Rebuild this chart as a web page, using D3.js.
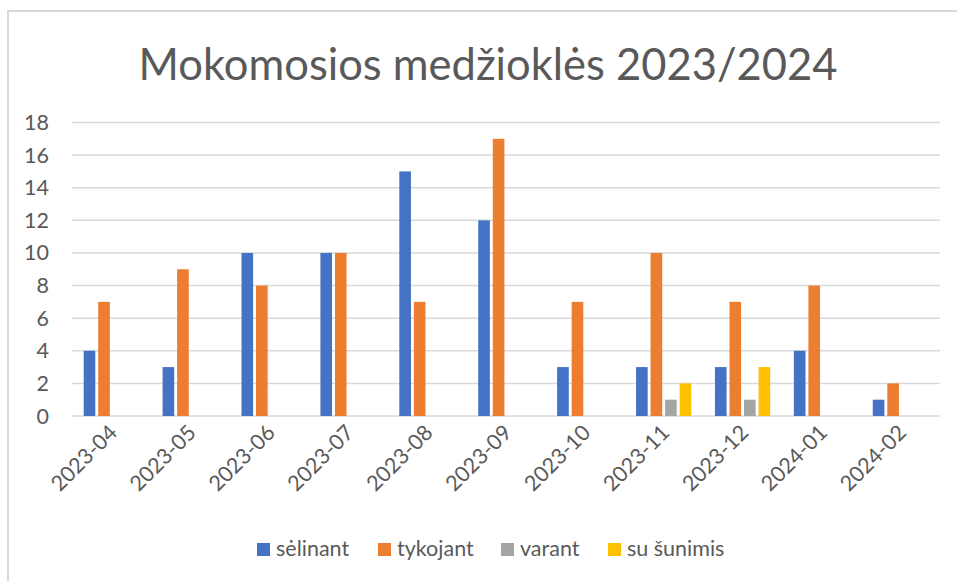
<!DOCTYPE html>
<html>
<head>
<meta charset="utf-8">
<title>Mokomosios medžioklės</title>
<script src="https://cdnjs.cloudflare.com/ajax/libs/d3/7.8.5/d3.min.js"></script>
<style>
    body { margin: 0; background: white; }
    svg text { font-family: Lato, "Open Sans", sans-serif; fill: #595959; }
</style>
</head>
<body>
<script>
var months = ['2023-04', '2023-05', '2023-06', '2023-07', '2023-08', '2023-09', '2023-10', '2023-11', '2023-12', '2024-01', '2024-02'];
var seriesNames = ['sėlinant', 'tykojant', 'varant', 'su šunimis'];
var selinant = [4, 3, 10, 10, 15, 12, 3, 3, 3, 4, 1];
var tykojant = [7, 9, 8, 10, 7, 17, 7, 10, 7, 8, 2];
var varant = [null, null, null, null, null, null, null, 1, 1, null, null];
var suSunimis = [null, null, null, null, null, null, null, 2, 3, null, null];
var colors = ['#4472c4', '#ed7d31', '#a5a5a5', '#ffc000'];
var yTicks = [0, 2, 4, 6, 8, 10, 12, 14, 16, 18];

var allSeries = [selinant, tykojant, varant, suSunimis];

var W = 957, H = 581;
var svg = d3.select('body').append('svg').attr('width', W).attr('height', H);

// chart border
svg.append('rect')
    .attr('x', 8).attr('y', 11).attr('width', 1000).attr('height', 700)
    .attr('fill', 'none').attr('stroke', '#d9d9d9').attr('stroke-width', 2);

svg.append('text')
    .attr('x', 488).attr('y', 80)
    .attr('text-anchor', 'middle')
    .style('font-size', '43.5px')
    .text('Mokomosios medžioklės 2023/2024');

var x = d3.scaleBand().domain(months).range([72, 940]);
var x1 = d3.scaleBand().domain(seriesNames)
    .range([x.bandwidth() * 0.148, x.bandwidth() * 0.848])
    .paddingInner(0.2);
var y = d3.scaleLinear().domain([0, 18]).range([416, 122.5]);

// gridlines
svg.append('g').selectAll('line').data(yTicks).enter().append('line')
    .attr('x1', 72).attr('x2', 940)
    .attr('y1', function(d) { return y(d); })
    .attr('y2', function(d) { return y(d); })
    .attr('stroke', '#d9d9d9').attr('stroke-width', 1.5);

// y labels
svg.append('g').selectAll('text').data(yTicks).enter().append('text')
    .attr('x', 49)
    .attr('y', function(d) { return y(d) + 7.5; })
    .attr('text-anchor', 'end')
    .style('font-size', '21.5px')
    .text(function(d) { return d; });

// bars
var groups = svg.append('g').selectAll('g').data(months).enter().append('g')
    .attr('transform', function(d) { return 'translate(' + x(d) + ',0)'; });

groups.selectAll('rect')
    .data(function(m, i) {
        return seriesNames.map(function(s, j) { return { s: s, j: j, v: allSeries[j][i] }; })
            .filter(function(d) { return d.v != null; });
    })
    .enter().append('rect')
    .attr('x', function(d) { return x1(d.s); })
    .attr('width', x1.bandwidth())
    .attr('y', function(d) { return y(d.v); })
    .attr('height', function(d) { return y(0) - y(d.v); })
    .attr('fill', function(d) { return colors[d.j]; });

// x labels
svg.append('g').selectAll('text').data(months).enter().append('text')
    .attr('transform', function(d) {
        return 'translate(' + (x(d) + x.bandwidth() / 2 + 7) + ',434) rotate(-45)';
    })
    .attr('text-anchor', 'end')
    .style('font-size', '21.5px')
    .text(function(d) { return d; });

// legend
var legendX = [257, 378, 501, 608];
var legend = svg.append('g').selectAll('g').data(seriesNames).enter().append('g')
    .attr('transform', function(d, i) { return 'translate(' + legendX[i] + ',543)'; });
legend.append('rect')
    .attr('width', 13).attr('height', 13)
    .attr('fill', function(d, i) { return colors[i]; });
legend.append('text')
    .attr('x', 19).attr('y', 13)
    .style('font-size', '21.5px')
    .text(function(d) { return d; });
</script>
</body>
</html>
